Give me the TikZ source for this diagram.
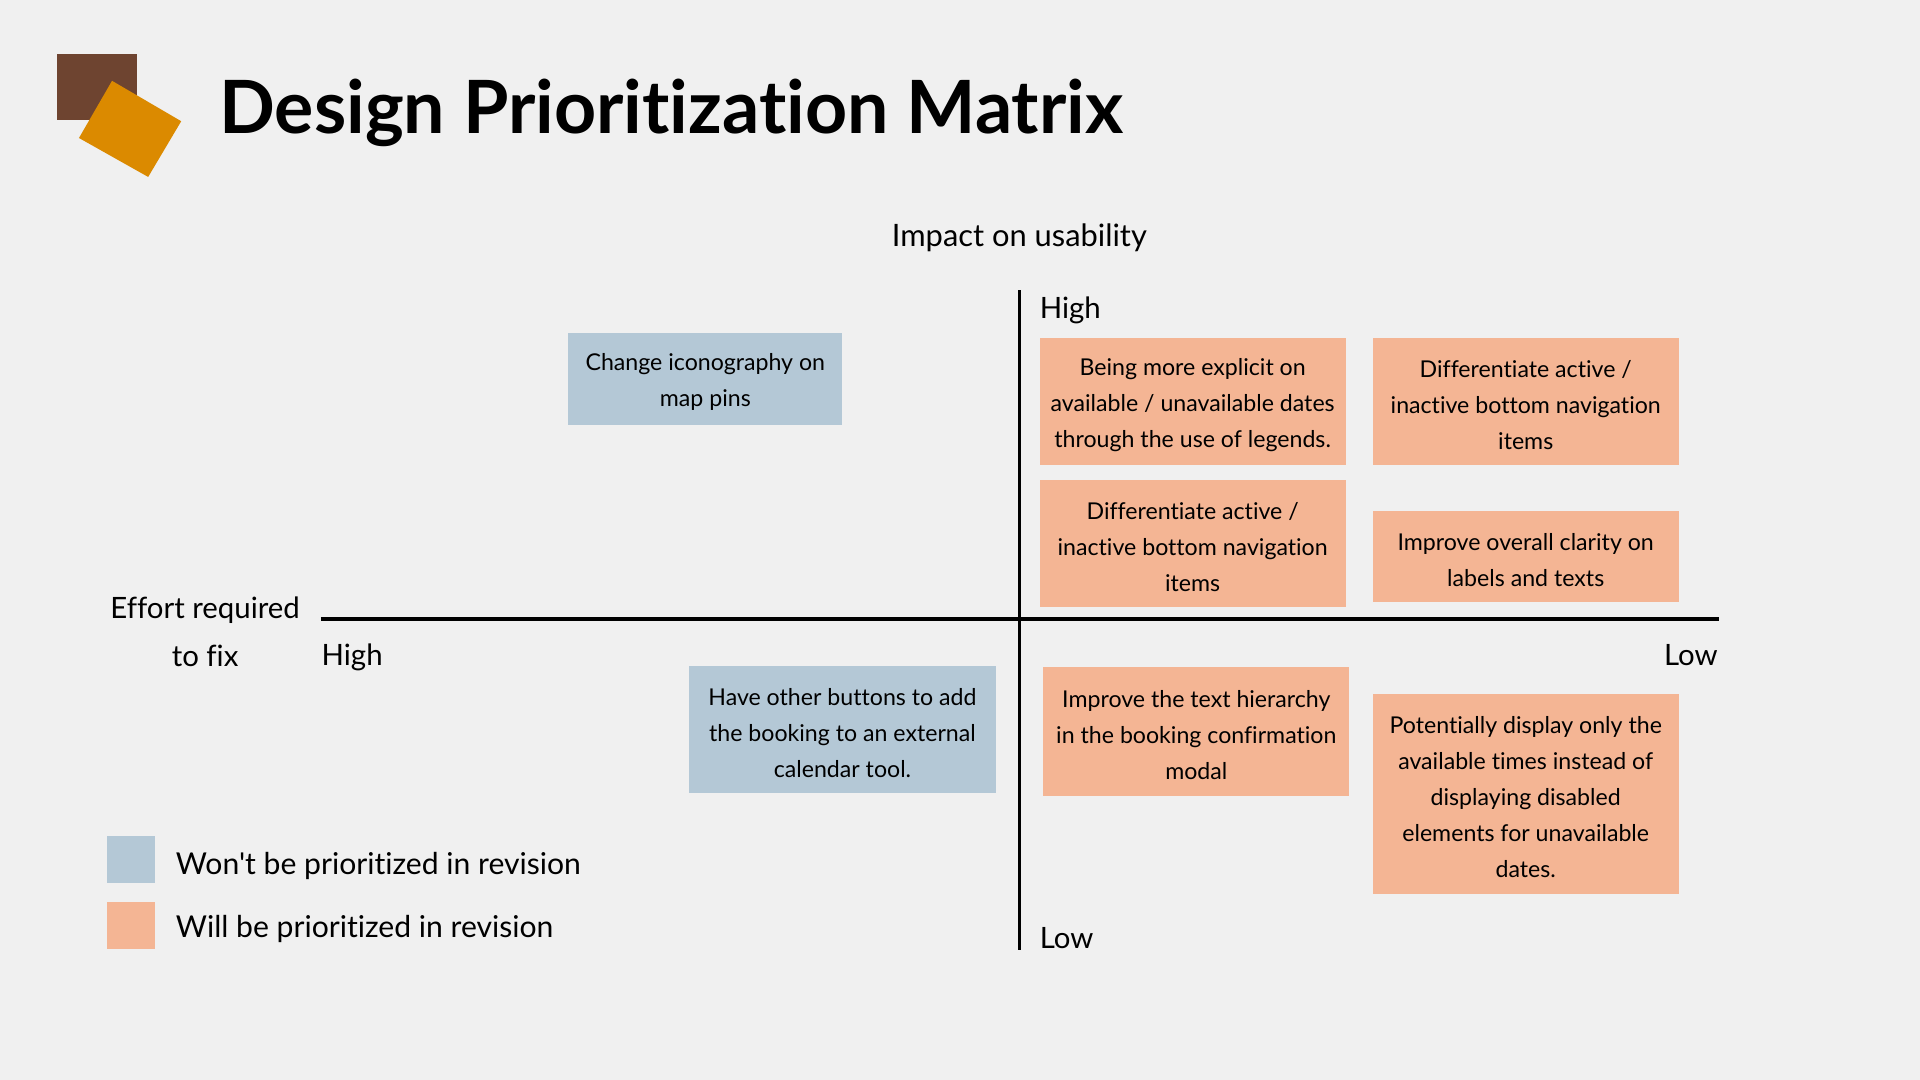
\documentclass[tikz,border=0pt]{standalone}
\usepackage{fontspec}
\setmainfont{Lato}[Ligatures={NoCommon,TeXOff}]
\definecolor{bg}{HTML}{F0F0F0}
\definecolor{brownsq}{HTML}{6E4430}
\definecolor{orangesq}{HTML}{DB8A00}
\definecolor{bluebox}{HTML}{B4C8D6}
\definecolor{peachbox}{HTML}{F4B594}
\newcommand{\firstlift}{\rule{0pt}{19pt}}
\tikzset{
  card/.style={rectangle, inner sep=0pt, align=center, minimum width=250pt, minimum height=104pt,
    font=\fontsize{18.9}{29.5}\selectfont, text=black},
  wont/.style={card, fill=bluebox},
  will/.style={card, fill=peachbox},
  axislbl/.style={inner sep=0pt, font=\fontsize{24}{39}\selectfont},
  axisline/.style={line width=3pt, black},
  legsq/.style={rectangle, inner sep=0pt, minimum width=39.5pt, minimum height=38.5pt},
  legtxt/.style={inner sep=0pt, anchor=base west, font=\fontsize{24.6}{30}\selectfont}
}
\begin{document}
\begin{tikzpicture}[x=1pt,y=-1pt]
\fill[bg] (0,0) rectangle (1568,882);
\useasboundingbox (0,0) rectangle (1568,882);
% logo
\fill[brownsq] (46.5,44) rectangle (112,98);
\fill[orangesq] (91.5,66) -- (148,99) -- (121,144.5) -- (64.5,112.7) -- cycle;
% title
\node[inner sep=0pt, anchor=base west, font=\fontsize{60}{70}\selectfont\bfseries] (title) at (179,109) {Design Prioritization Matrix};
% axes
\coordinate (vtop) at (832.5,237);
\coordinate (vbot) at (832.5,776);
\coordinate (hl) at (262,505.5);
\coordinate (hr) at (1404,505.5);
\draw[axisline] (vtop) -- (vbot);
\draw[axisline] (hl) -- (hr);
\node[axislbl, anchor=base, font=\fontsize{25.2}{30}\selectfont] (impact) at (832.5,201.5) {Impact on usability};
\node[axislbl, anchor=base west] (hightop) at (849,260.5) {High};
\node[axislbl, anchor=base west] (lowbot) at (849,775) {Low};
\node[axislbl, anchor=base west] (highleft) at (262.5,543.5) {High};
\node[axislbl, anchor=base east] (lowright) at (1403,543.5) {Low};
\node[axislbl, anchor=base, align=center] (effort) at (167.5,544) {Effort required\\to fix};
% cards
\node[wont, minimum width=224pt, minimum height=75pt] (c1) at (576,309.5) {\firstlift Change iconography on\\map pins};
\node[wont] (c2) at (688,596) {\firstlift Have other buttons to add\\the booking to an external\\calendar tool.};
\node[will] (c3) at (974,328) {\firstlift Being more explicit on\\available / unavailable dates\\through the use of legends.};
\node[will] (c4) at (1246,328) {\firstlift Differentiate active /\\inactive bottom navigation\\items};
\node[will] (c5) at (974,444) {\firstlift Differentiate active /\\inactive bottom navigation\\items};
\node[will, minimum height=75pt] (c6) at (1246,454.5) {\firstlift Improve overall clarity on\\labels and texts};
\node[will, minimum height=105pt] (c7) at (977,597.5) {\firstlift Improve the text hierarchy\\in the booking confirmation\\modal};
\node[will, minimum height=163pt] (c8) at (1246,648.5) {\firstlift Potentially display only the\\available times instead of\\displaying disabled\\elements for unavailable\\dates.};
% legend
\node[legsq, fill=bluebox] (lg1) at (107,702) {};
\node[legsq, fill=peachbox] (lg2) at (107,756) {};
\node[legtxt] (lt1) at (143.5,714.5) {Won't be prioritized in revision};
\node[legtxt] (lt2) at (143.5,765.5) {Will be prioritized in revision};
\end{tikzpicture}
\end{document}
